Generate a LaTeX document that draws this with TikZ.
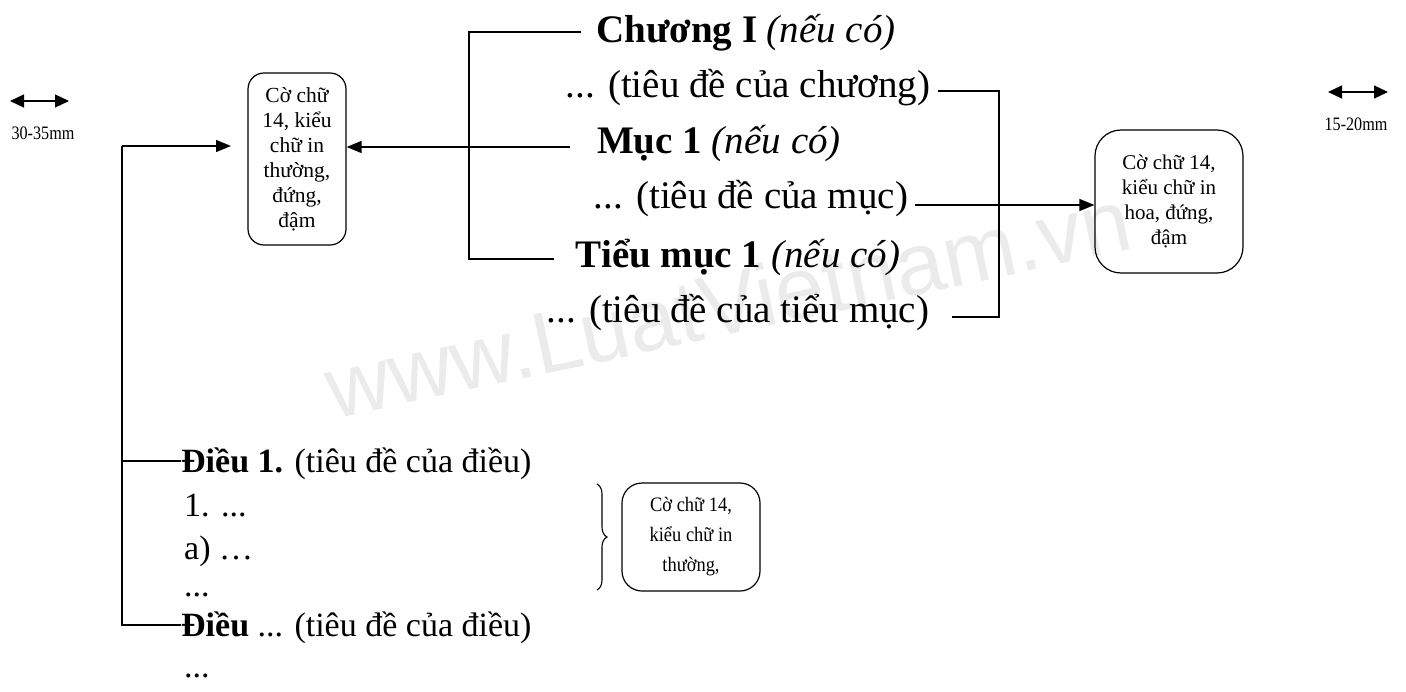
\documentclass[tikz,border=0pt]{standalone}
\usepackage{fontspec}
\setmainfont{Liberation Serif}
\newfontfamily\wmfont{Liberation Sans}
\usetikzlibrary{arrows.meta,decorations.pathreplacing}
\begin{document}
\begin{tikzpicture}[x=1pt,y=-1pt,
  ln/.style={line width=1.4pt},
  arr/.style={line width=1.4pt,-{Triangle[length=15pt,width=12pt]}},
  dbl/.style={line width=1.2pt,{Triangle[length=14pt,width=13pt]}-{Triangle[length=14pt,width=13pt]}},
  big/.style={inner sep=0pt,anchor=base,font=\fontsize{39}{41}\selectfont},
  low/.style={inner sep=0pt,anchor=base west,font=\fontsize{34}{36}\selectfont},
  box/.style={draw,line width=1.2pt,align=center,inner sep=0pt},
  mm/.style={inner sep=0pt,font=\fontsize{19}{21}\selectfont}]
\useasboundingbox (0,0) rectangle (1406,691);

% watermark
\node[rotate=12,text=black!8,font=\wmfont\fontsize{88}{90}\selectfont] (wm) at (728,303) {www.LuatVietnam.vn};

% margin indicators
\coordinate (A1) at (10,101);
\coordinate (A2) at (69,101);
\draw[dbl] (A1) -- (A2);
\node[mm] (a30) at (43,133) {\scalebox{0.85}[1]{30-35mm}};
\coordinate (B1) at (1328,92);
\coordinate (B2) at (1388,92);
\draw[dbl] (B1) -- (B2);
\node[mm] (b15) at (1356,124) {\scalebox{0.85}[1]{15-20mm}};

% boxes
\node[box,rounded corners=16pt,minimum width=98pt,minimum height=172pt,
  font=\fontsize{21.5}{25}\selectfont] (lb) at (297,159)
  {Cờ chữ\\14, kiểu\\chữ in\\thường,\\đứng,\\đậm};
\node[box,rounded corners=26pt,minimum width=148pt,minimum height=143pt,
  font=\fontsize{21}{25}\selectfont] (rb) at (1169,201.5)
  {Cờ chữ 14,\\kiểu chữ in\\hoa, đứng,\\đậm};
\node[box,rounded corners=20pt,minimum width=138pt,minimum height=108pt,
  font=\fontsize{20.5}{30}\selectfont] (bb) at (691,537)
  {\scalebox{0.9}[1]{Cờ chữ 14,}\\\scalebox{0.9}[1]{kiểu chữ in}\\\scalebox{0.9}[1]{thường,}};

% upper texts
\node[big] (c1) at (746,42) {\textbf{Chương I} \textit{(nếu có)}};
\node[big] (c2) at (748,97) {... (tiêu đề của chương)};
\node[big] (m1) at (719,153) {\textbf{Mục 1} \textit{(nếu có)}};
\node[big] (m2) at (751,208) {... (tiêu đề của mục)};
\node[big] (s1) at (738,267) {\textbf{Tiểu mục 1} \textit{(nếu có)}};
\node[big] (s2) at (738,322) {... (tiêu đề của tiểu mục)};

% lower texts
\node[low] (d1) at (181,472) {\textbf{Điều 1.} (tiêu đề của điều)};
\node[low] (n1) at (184,516) {1. ...};
\node[low] (a1) at (184,559) {a) …};
\node[low] (e1) at (184,596) {...};
\node[low] (d2) at (181,636) {\textbf{Điều} ... (tiêu đề của điều)};
\node[low] (e2) at (184,677) {...};

% attachment points
\coordinate (d1p) at ([yshift=11pt]d1.base west);
\coordinate (d2p) at ([yshift=11pt]d2.base west);
\coordinate (c1p) at ([xshift=-15pt,yshift=10pt]c1.base west);
\coordinate (s1p) at ([xshift=-22pt,yshift=8pt]s1.base west);
\coordinate (m1p) at ([xshift=-27pt,yshift=6pt]m1.base west);
\coordinate (c2p) at ([xshift=8pt,yshift=6pt]c2.base east);
\coordinate (s2p) at ([xshift=23pt,yshift=5pt]s2.base east);
\coordinate (m2p) at ([xshift=7pt,yshift=3pt]m2.base east);

% left tree
\coordinate (L0) at (122,146);
\coordinate (L1) at (231,146);
\draw[arr] (L0) -- (L1);
\draw[ln] (L0) -- (L0 |- d2p) -- (d2p);
\draw[ln] (L0 |- d1p) -- (d1p);

% middle bracket
\coordinate (M) at (469,0);
\draw[ln] (c1p) -- (M |- c1p) -- (M |- s1p) -- (s1p);
\draw[arr] (m1p) -- (lb.east |- m1p);

% right bracket
\coordinate (R) at (999,0);
\draw[ln] (c2p) -- (R |- c2p) -- (R |- s2p) -- (s2p);
\draw[arr] (m2p) -- (rb.west |- m2p);

% brace
\coordinate (K1) at (597,484);
\coordinate (K2) at (597,590);
\draw[line width=1.1pt,decorate,decoration={brace,amplitude=10pt}] (K1) -- (K2);
\end{tikzpicture}
\end{document}
